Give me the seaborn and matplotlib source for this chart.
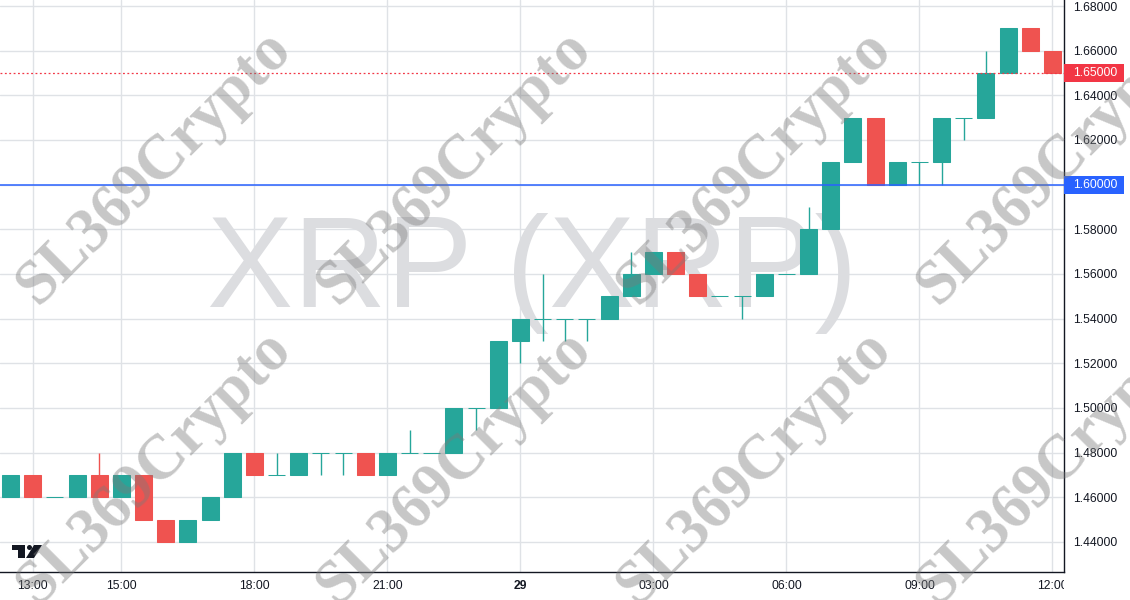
import pandas as pd
import matplotlib
matplotlib.use("Agg")
import matplotlib.pyplot as plt
import matplotlib.dates as mdates
import matplotlib.patches as mpatches
from matplotlib.transforms import Bbox, TransformedBbox, blended_transform_factory
import seaborn as sns

# ---- data (30 minute XRP candles) ----
start_time = "2024-11-28 12:30"
opens = [1.46, 1.47, 1.46, 1.46, 1.47, 1.46, 1.47, 1.45, 1.44, 1.45, 1.46, 1.48,
         1.47, 1.47, 1.48, 1.48, 1.48, 1.47, 1.48, 1.48, 1.48, 1.50, 1.50, 1.53,
         1.54, 1.54, 1.54, 1.54, 1.55, 1.56, 1.57, 1.56, 1.55, 1.55, 1.55, 1.56,
         1.56, 1.58, 1.61, 1.63, 1.60, 1.61, 1.61, 1.63, 1.63, 1.65, 1.67, 1.66]
highs = [1.47, 1.47, 1.46, 1.47, 1.48, 1.47, 1.47, 1.45, 1.45, 1.46, 1.48, 1.48,
         1.48, 1.48, 1.48, 1.48, 1.48, 1.48, 1.49, 1.48, 1.50, 1.50, 1.53, 1.54,
         1.56, 1.54, 1.54, 1.55, 1.57, 1.57, 1.57, 1.56, 1.55, 1.55, 1.56, 1.56,
         1.59, 1.61, 1.63, 1.63, 1.61, 1.61, 1.63, 1.63, 1.66, 1.67, 1.67, 1.66]
lows = [1.46, 1.46, 1.46, 1.46, 1.46, 1.46, 1.45, 1.44, 1.44, 1.45, 1.46, 1.47,
        1.47, 1.47, 1.47, 1.47, 1.47, 1.47, 1.48, 1.48, 1.48, 1.49, 1.50, 1.52,
        1.53, 1.53, 1.53, 1.54, 1.55, 1.56, 1.56, 1.55, 1.55, 1.54, 1.55, 1.56,
        1.56, 1.58, 1.61, 1.60, 1.60, 1.60, 1.60, 1.62, 1.63, 1.65, 1.66, 1.65]
closes = [1.47, 1.46, 1.46, 1.47, 1.46, 1.47, 1.45, 1.44, 1.45, 1.46, 1.48, 1.47,
          1.47, 1.48, 1.48, 1.48, 1.47, 1.48, 1.48, 1.48, 1.50, 1.50, 1.53, 1.54,
          1.54, 1.54, 1.54, 1.55, 1.56, 1.57, 1.56, 1.55, 1.55, 1.55, 1.56, 1.56,
          1.58, 1.61, 1.63, 1.60, 1.61, 1.61, 1.63, 1.63, 1.65, 1.67, 1.66, 1.65]

time_ticks = ["2024-11-28 13:00", "2024-11-28 15:00", "2024-11-28 18:00",
              "2024-11-28 21:00", "2024-11-29 00:00", "2024-11-29 03:00",
              "2024-11-29 06:00", "2024-11-29 09:00", "2024-11-29 12:00"]
time_labels = ["13:00", "15:00", "18:00", "21:00", "29", "03:00", "06:00", "09:00", "12:00"]
price_ticks = [1.44, 1.46, 1.48, 1.50, 1.52, 1.54, 1.56, 1.58, 1.60, 1.62, 1.64, 1.66, 1.68]
last_price = 1.65
level_price = 1.60
symbol_text = "XRP (XRP)"
watermark_text = "SL369Crypto"

UP = "#26a69a"
DOWN = "#ef5350"
TEXT = "#131722"

df = pd.DataFrame({
    "time": pd.date_range(start_time, periods=len(opens), freq="30min"),
    "open": opens, "high": highs, "low": lows, "close": closes,
})
df["color"] = [UP if c >= o else DOWN for o, c in zip(df["open"], df["close"])]

sns.set_style("white")
plt.rcParams["font.family"] = ["Liberation Sans", "DejaVu Sans"]

W, H = 1130, 600
fig = plt.figure(figsize=(11.3, 6.0), dpi=100)
ax = fig.add_axes([0, 28 / H, 1064 / W, 572 / H])


def px(x, y):
    return (x / W, 1 - y / H)


# big symbol watermark behind candles
ax.text(0.5, 0.521, symbol_text, transform=ax.transAxes, ha="center", va="center",
        fontsize=93, color="#dcdde0", zorder=0.5)

# grid
for t in time_ticks:
    ax.axvline(pd.Timestamp(t), color="#dfe2e6", lw=1, zorder=0.4)
for p in price_ticks:
    ax.axhline(p, color="#dfe2e6", lw=1, zorder=0.4)

# candles
x = mdates.date2num(df["time"])
body_w = 17 / 44.34 / 24
ax.vlines(x, df["low"], df["high"], colors=df["color"], lw=1, zorder=2)
ax.bar(x, df["close"] - df["open"], bottom=df["open"], width=body_w,
       color=df["color"], edgecolor=df["color"], linewidth=0.75, zorder=3)

# price lines
ax.axhline(level_price, color="#2962ff", lw=1.1, zorder=4)
ax.axhline(last_price, color="#f23645", lw=0.9, ls=(0, (1.5, 2.0)), zorder=4)

ax.set_xlim(mdates.date2num(pd.Timestamp("2024-11-28 12:15:47")),
            mdates.date2num(pd.Timestamp("2024-11-29 12:15:36")))
ax.set_ylim(1.4265, 1.6827)

# axes styling
for s in ["left", "top"]:
    ax.spines[s].set_visible(False)
for s in ["right", "bottom"]:
    ax.spines[s].set_color(TEXT)
    ax.spines[s].set_linewidth(1)
ax.yaxis.tick_right()
ax.set_yticks(price_ticks)
# the 1.60 label is drawn in its own blue box below
ax.set_yticklabels(["" if p == level_price else f"{p:.5f}" for p in price_ticks])
ax.set_xticks([mdates.date2num(pd.Timestamp(t)) for t in time_ticks])
ax.set_xticklabels(time_labels)
ax.tick_params(axis="y", length=0, pad=6.5, labelsize=8.7, labelcolor=TEXT)
ax.tick_params(axis="x", length=0, pad=5.5, labelsize=8.7, labelcolor=TEXT)
clip = TransformedBbox(Bbox([[0, 0], [1064 / W, 1]]), fig.transFigure)
for lbl, txt in zip(ax.get_xticklabels(), time_labels):
    if txt == "29":
        lbl.set_fontweight("bold")
    lbl.set_clip_box(clip)
    lbl.set_clip_on(True)

# price labels on axis
bt = blended_transform_factory(ax.transAxes, ax.transData)
for price, col in [(last_price, "#f23645"), (level_price, "#2962ff")]:
    h = 9 / 2233
    ax.add_patch(mpatches.Rectangle((1.0, price - h), 60 / 1064, 2 * h, transform=bt,
                                    facecolor=col, edgecolor="none", clip_on=False, zorder=6))
    ax.text(1.0 + 9 / 1064, price, f"{price:.5f}", transform=bt, ha="left", va="center",
            fontsize=8.7, color="white", clip_on=False, zorder=7)

# diagonal watermarks
for cx in [155, 455, 755, 1055]:
    for cy in [168, 468]:
        fig.text(*px(cx, cy), watermark_text, rotation=45, ha="center", va="center",
                 rotation_mode="anchor", fontsize=45, fontweight="bold",
                 family=["Liberation Serif", "DejaVu Serif"], color="#7a7a7a", alpha=0.42,
                 zorder=10)

# TradingView logo
logo = "#131722"
fig.patches.append(mpatches.Polygon([px(12, 545), px(25, 545), px(25, 558), px(18, 558),
                                     px(18, 550), px(12, 550)], closed=True,
                                    transform=fig.transFigure, facecolor=logo, edgecolor="none"))
fig.patches.append(mpatches.Ellipse(px(29.5, 547.5), 5 / W, 5 / H,
                                    transform=fig.transFigure, facecolor=logo, edgecolor="none"))
fig.patches.append(mpatches.Polygon([px(34, 545), px(42, 545), px(34, 558), px(26, 558)],
                                    closed=True, transform=fig.transFigure,
                                    facecolor=logo, edgecolor="none"))

fig.savefig("out.png", dpi=100)
